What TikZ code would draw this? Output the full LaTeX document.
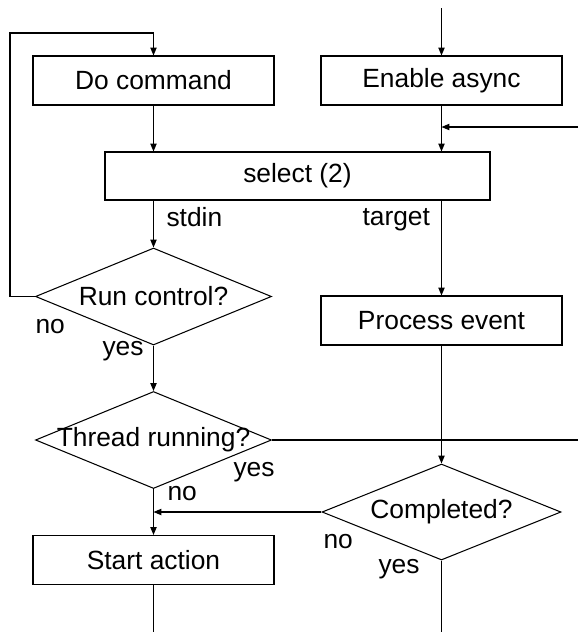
\documentclass[tikz,border=0pt]{standalone}
\usepackage{fontspec}
\setmainfont{Liberation Sans}
\usetikzlibrary{arrows.meta, shapes.geometric}

\begin{document}
\begin{tikzpicture}[
	>={Triangle[length=4.5pt, width=3.6pt]},
	font=\fontsize{15}{18}\selectfont,
	line width=0.6pt,
	% Flowchart node styles
	action/.style={
		draw, rectangle,
		minimum width=4.82cm, minimum height=0.98cm,
		align=center
	},
	decision/.style={
		draw, diamond, inner sep=0pt,
		minimum width=4.72cm, minimum height=1.94cm
	},
	branch/.style={anchor=base west, inner sep=0pt},
	arrow/.style={->}
]

\useasboundingbox (0,0) rectangle (11.62,-12.64);

% Nodes (left column)
\node[action] (docmd) at (3.07,-1.61) {Do command};
\node[action, minimum width=7.7cm, minimum height=0.96cm] (select) at (5.95,-3.52) {select (2)};
\node[decision, label={center:Run control?}] (runctl) at (3.07,-5.93) {};
\node[decision, label={center:Thread running?}] (thread) at (3.07,-8.8) {};
\node[action] (start) at (3.07,-11.2) {Start action};

% Nodes (right column)
\node[action] (async) at (8.83,-1.61) {Enable async};
\node[action] (process) at (8.83,-6.41) {Process event};
\node[decision, minimum width=4.78cm, minimum height=1.92cm,
	label={center:Completed?}] (done) at (8.83,-10.24) {};

% Branch labels
\node[branch] (stdin) at (3.32,-4.52) {stdin};
\node[branch] (target) at (7.24,-4.5) {target};
\node[branch] (runno) at (0.7,-6.66) {no};
\node[branch] (runyes) at (2.04,-7.1) {yes};
\node[branch] (threadyes) at (4.66,-9.52) {yes};
\node[branch] (threadno) at (3.34,-10.0) {no};
\node[branch] (doneno) at (6.46,-10.96) {no};
\node[branch] (doneyes) at (7.56,-11.46) {yes};

% Free ends at the border
\coordinate (intop) at (8.83,-0.16);
\coordinate (inright) at (11.56,-2.54);
\coordinate (outright) at (11.56,-8.8);
\coordinate (loopx) at (0.2,-0.66);
\coordinate (outleft) at (3.07,-12.64);
\coordinate (outdone) at (8.83,-12.64);

% Arrows
\draw[arrow] (intop) -- (async);
\draw[arrow] (async) -- (async |- select.north);
\draw[arrow] (inright) -- (async |- inright);
\draw[arrow] (docmd) -- (docmd |- select.north);
\draw[arrow] (runctl |- select.south) -- (runctl);
\draw[arrow] (async |- select.south) -- (process);
\draw[arrow] (process) -- (done);
\draw[arrow] (runctl) -- (thread);
\draw[arrow] (thread) -- (start);
\draw (start) -- (outleft);
\draw (done) -- (outdone);

% Loop: Run control (no) back to Do command
\draw[arrow]
	(runctl.west)
	-- (loopx |- runctl.west)
	-- (loopx)
	-| (docmd.north);

% Thread running (yes) leaves to the right
\draw (thread.east) -- (outright);

% Completed (no) joins the Start action line
\draw[arrow] (done.west) -- (thread.south |- done.west);

\end{tikzpicture}
\end{document}
